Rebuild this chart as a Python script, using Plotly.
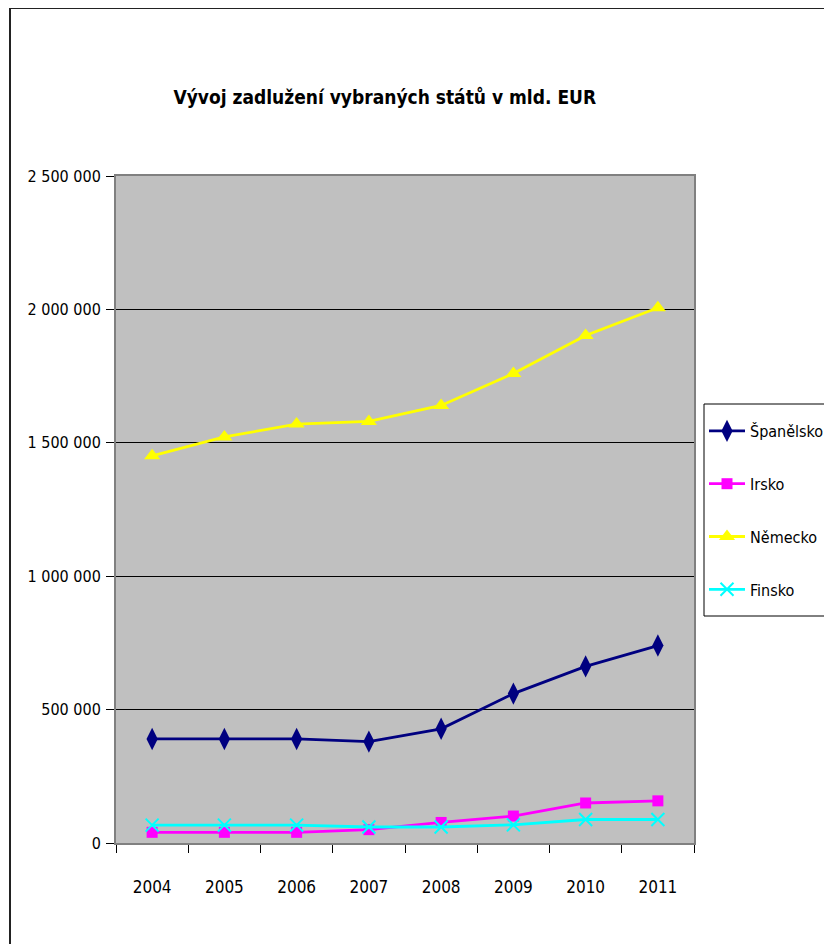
import plotly.graph_objects as go

years = ["2004", "2005", "2006", "2007", "2008", "2009", "2010", "2011"]
spanelsko = [390000, 390000, 390000, 380000, 428000, 560000, 662000, 740000]
irsko = [40000, 40000, 40000, 50000, 77000, 101000, 150000, 158000]
nemecko = [1451000, 1522000, 1570000, 1580000, 1640000, 1760000, 1902000, 2006000]
finsko = [67000, 67000, 67000, 60000, 60000, 68000, 88000, 88000]

y_tickvals = [0, 500000, 1000000, 1500000, 2000000, 2500000]
y_ticktext = ["0", "500 000", "1 000 000", "1 500 000", "2 000 000", "2 500 000"]

FONT = "DejaVu Sans Condensed, Liberation Sans Narrow, Arial Narrow, Liberation Sans, Arial, sans-serif"

# figure pixel geometry (page has an 8px body margin)
W, H = 824, 936
PL, PR, PT, PB = 108, 686, 168, 835
PW, PH = PR - PL, PB - PT

fig = go.Figure()
series = [
    ("Španělsko", spanelsko, "#000080", dict(symbol="diamond-tall", size=16, color="#000080")),
    ("Irsko", irsko, "#FF00FF", dict(symbol="square", size=11, color="#FF00FF")),
    ("Německo", nemecko, "#FFFF00", dict(symbol="triangle-up", size=14, color="#FFFF00")),
    ("Finsko", finsko, "#00FFFF", dict(symbol="x-thin", size=13, color="#00FFFF",
                                        line=dict(color="#00FFFF", width=2))),
]
for i, (name, vals, col, mk) in enumerate(series):
    fig.add_trace(go.Scatter(
        x=years, y=vals, name=name, mode="lines+markers",
        line=dict(color=col, width=2.8), marker=mk,
        legendgroup=f"g{i}",
    ))

fig.update_layout(
    width=W, height=H,
    margin=dict(l=PL, r=W - PR, t=PT, b=H - PB, autoexpand=False),
    paper_bgcolor="white",
    plot_bgcolor="#C0C0C0",
    font=dict(family=FONT, size=17, color="black"),
    title=dict(
        text="<b>Vývoj zadlužení vybraných států v mld. EUR</b>",
        x=0.465, xref="paper", xanchor="center",
        y=1 - 89 / H, yref="container", yanchor="middle",
        font=dict(family=FONT, size=19, color="black"),
    ),
    showlegend=True,
    legend=dict(
        x=(696 - PL) / PW, xanchor="left",
        y=(PB - 406) / PH, yanchor="top",
        bgcolor="rgba(0,0,0,0)", borderwidth=0,
        font=dict(family=FONT, size=16, color="black"),
        itemwidth=36, traceorder="grouped", tracegroupgap=29,
    ),
    xaxis=dict(
        type="category", range=[-0.5, 7.5],
        showgrid=False, showline=True, linecolor="#808080", linewidth=2, mirror=True,
        ticks="outside", ticklen=8, tickcolor="black", tickson="boundaries",
        ticklabelstandoff=28, zeroline=False,
        tickfont=dict(size=17),
    ),
    yaxis=dict(
        range=[0, 2500000], tickvals=y_tickvals, ticktext=y_ticktext,
        showgrid=True, gridcolor="black", gridwidth=1,
        showline=True, linecolor="#808080", linewidth=2, mirror=True,
        ticks="outside", ticklen=8, tickcolor="black",
        ticklabelstandoff=2, zeroline=False,
        tickfont=dict(size=16),
    ),
    shapes=[
        dict(type="rect", xref="paper", yref="paper",
             x0=(2 - PL) / PW, x1=1.6, y0=-0.5, y1=(PB - 0) / PH,
             line=dict(color="#222222", width=2), fillcolor="rgba(0,0,0,0)", layer="below"),
        dict(type="rect", xref="paper", yref="paper",
             x0=(696 - PL) / PW, x1=(830 - PL) / PW,
             y0=(PB - 608) / PH, y1=(PB - 396) / PH,
             line=dict(color="black", width=1), fillcolor="white", layer="above"),
    ],
)

fig.write_html("out.html")
